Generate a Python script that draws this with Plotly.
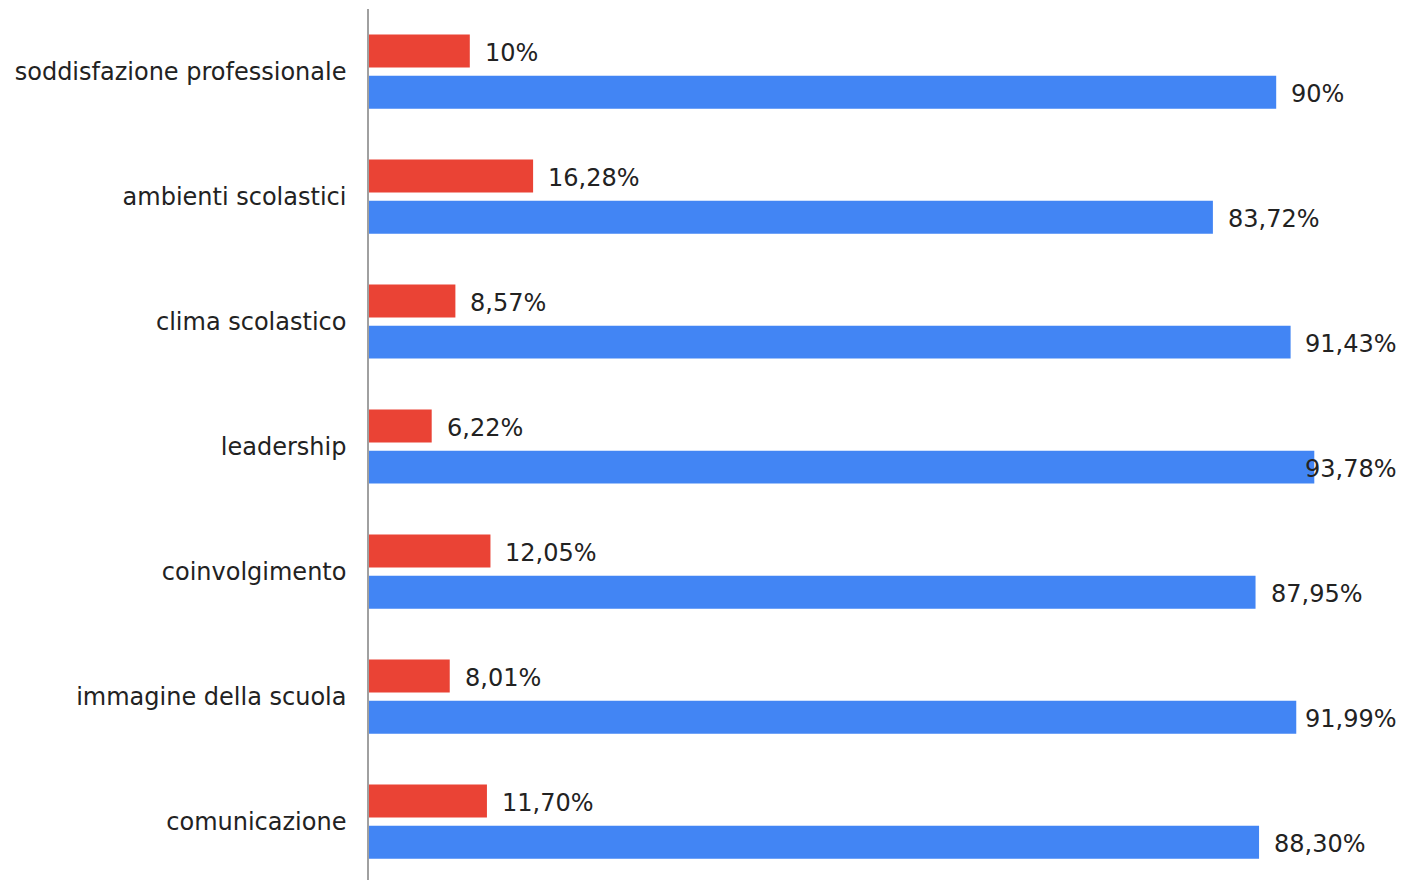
import plotly.graph_objects as go

categories = ["soddisfazione professionale", "ambienti scolastici", "clima scolastico",
              "leadership", "coinvolgimento", "immagine della scuola", "comunicazione"]
red_values = [10, 16.28, 8.57, 6.22, 12.05, 8.01, 11.70]
blue_values = [90, 83.72, 91.43, 93.78, 87.95, 91.99, 88.30]
red_labels = ["10%", "16,28%", "8,57%", "6,22%", "12,05%", "8,01%", "11,70%"]
blue_labels = ["90%", "83,72%", "91,43%", "93,78%", "87,95%", "91,99%", "88,30%"]

RED = "#EA4335"
BLUE = "#4285F4"
FONT = "'DejaVu Sans', Arial, sans-serif"
FS = 24
BARGAP = 0.34
GROUPGAP = 0.2
XMAX = 100

fig = go.Figure()
fig.add_trace(go.Bar(y=categories, x=red_values, orientation="h", marker_color=RED,
                     marker_line_width=0, hoverinfo="x+y"))
fig.add_trace(go.Bar(y=categories, x=blue_values, orientation="h", marker_color=BLUE,
                     marker_line_width=0, hoverinfo="x+y"))

slot = (1 - BARGAP) / 2
annotations = []
for i, (rv, bv, rl, bl) in enumerate(zip(red_values, blue_values, red_labels, blue_labels)):
    for val, lab, off in ((rv, rl, -slot / 2), (bv, bl, slot / 2)):
        if val > 91:
            ann = dict(x=XMAX, xanchor="right", xshift=22)
        else:
            ann = dict(x=val, xanchor="left", xshift=13)
        ann.update(y=i + off, yref="y", xref="x", text=lab, showarrow=False, yshift=-2,
                   yanchor="middle", font=dict(family=FONT, size=FS, color="#222222"))
        annotations.append(ann)

fig.update_layout(
    width=1404, height=880,
    margin=dict(l=369, r=27, t=9, b=0),
    paper_bgcolor="white", plot_bgcolor="white",
    barmode="group", bargap=BARGAP, bargroupgap=GROUPGAP,
    showlegend=False,
    font=dict(family=FONT, size=FS, color="#222222"),
    xaxis=dict(range=[0, XMAX], showgrid=False, zeroline=False, showticklabels=False,
               showline=False, fixedrange=True),
    yaxis=dict(type="category", categoryorder="array", categoryarray=categories,
               range=[-0.5 + 871 / 125, -0.5], showgrid=False, zeroline=False,
               showline=True, linecolor="#a0a0a0", linewidth=1.5,
               ticks="", ticklabelstandoff=16,
               tickfont=dict(family=FONT, size=FS, color="#222222")),
    annotations=annotations,
)

fig.write_html("out.html", config={"displayModeBar": False},
               post_script="document.body.style.margin='0';document.body.style.overflow='hidden';")
